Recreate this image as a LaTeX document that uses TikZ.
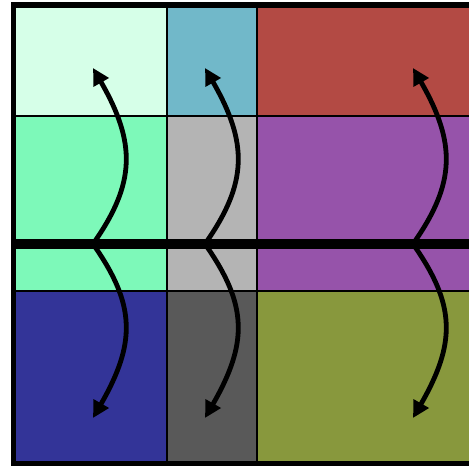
\documentclass[tikz,border=0pt]{standalone}
\usetikzlibrary{arrows.meta,calc}

\definecolor{MintPale}{RGB}{214,255,232}
\definecolor{SkyTeal}{RGB}{113,184,201}
\definecolor{BrickRed}{RGB}{179,74,68}
\definecolor{MintBright}{RGB}{125,249,185}
\definecolor{GreyLight}{RGB}{180,180,180}
\definecolor{PlumPurple}{RGB}{150,83,170}
\definecolor{NavyBlue}{RGB}{51,52,152}
\definecolor{GreyDark}{RGB}{89,89,89}
\definecolor{OliveGreen}{RGB}{136,152,61}

\tikzset{
  cell/.style={draw=black, line width=1.5pt},
  flowarrow/.style={-{Triangle[length=12.5pt,width=12.5pt]}, line width=3.6pt, black}
}

\begin{document}
\begin{tikzpicture}[x=0.75pt,y=-0.75pt]
    \useasboundingbox (0,0) rectangle (469,466);
    \clip (0,0) rectangle (469,466);

    % Top row
    \draw[cell, fill=MintPale] (15,7) rectangle (167,116);
    \draw[cell, fill=SkyTeal] (167,7) rectangle (257,116);
    \draw[cell, fill=BrickRed] (257,7) rectangle (540,116);

    % Middle row
    \draw[cell, fill=MintBright] (15,116) rectangle (167,291);
    \draw[cell, fill=GreyLight] (167,116) rectangle (257,291);
    \draw[cell, fill=PlumPurple] (257,116) rectangle (540,291);

    % Bottom row
    \draw[cell, fill=NavyBlue] (15,291) rectangle (167,462);
    \draw[cell, fill=GreyDark] (167,291) rectangle (257,462);
    \draw[cell, fill=OliveGreen] (257,291) rectangle (540,462);

    % Outer frame and divider
    \draw[line width=3.4pt] (540,4) -- (13.3,4) -- (13.3,463.5) -- (540,463.5);
    \coordinate (divL) at (13.3,244);
    \coordinate (divR) at (540,244);
    \draw[line width=7.5pt] (divL) -- (divR);

    % Arrow anchors
    \coordinate (mid1) at (93,244);
    \coordinate (top1) at (93,68);
    \coordinate (bot1) at (93,418);
    \coordinate (mid2) at (205,244);
    \coordinate (top2) at (205,68);
    \coordinate (bot2) at (205,418);
    \coordinate (mid3) at (413,244);
    \coordinate (top3) at (413,68);
    \coordinate (bot3) at (413,418);

    % Arrows
    \foreach \i in {1,2,3} {
        \draw[flowarrow] (mid\i) .. controls ($(mid\i)+(43,-61)$) and ($(top\i)+(43,75)$) .. (top\i);
        \draw[flowarrow] (mid\i) .. controls ($(mid\i)+(43,61)$) and ($(bot\i)+(43,-75)$) .. (bot\i);
    }
\end{tikzpicture}
\end{document}
